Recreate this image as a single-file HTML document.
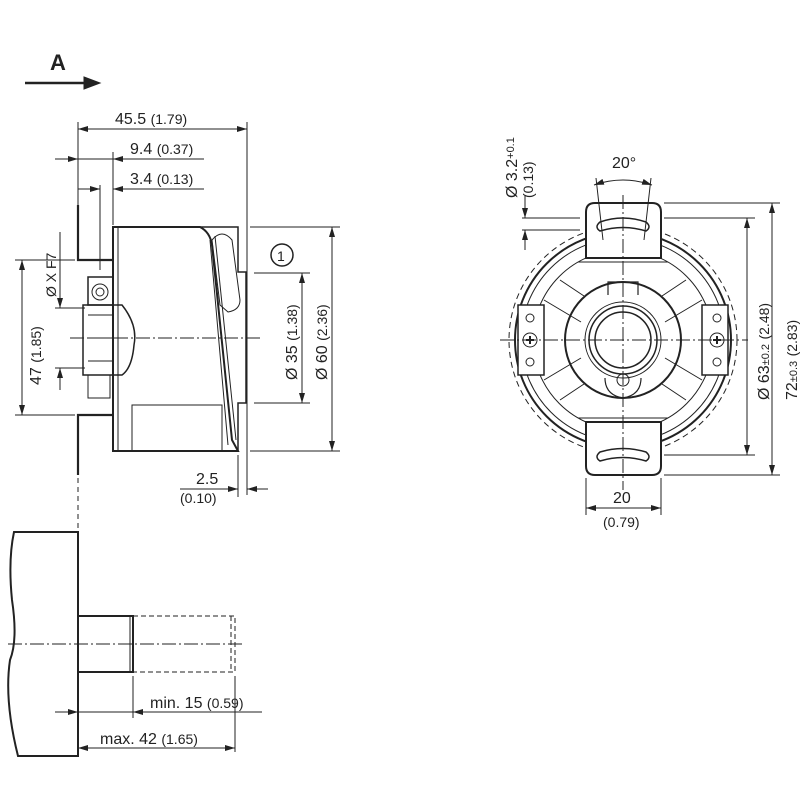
<!DOCTYPE html>
<html><head><meta charset="utf-8"><style>
html,body{margin:0;padding:0;background:#fff;width:800px;height:800px;overflow:hidden}
svg{display:block}
text{font-family:"Liberation Sans",sans-serif;fill:#222}
</style></head><body>
<svg width="800" height="800" viewBox="0 0 800 800" xmlns="http://www.w3.org/2000/svg">
<defs>
<marker id="a" viewBox="0 0 10 6" refX="10" refY="3" markerWidth="10" markerHeight="6" orient="auto-start-reverse" markerUnits="userSpaceOnUse"><path d="M0,0L10,3L0,6z" fill="#222"/></marker>
</defs>
<g stroke="#222" fill="none" stroke-width="1">
<line x1="25" y1="83" x2="88" y2="83" stroke-width="2.5"/>
<path d="M84,77L100,83L84,89z" fill="#222"/>
<line x1="78" y1="122" x2="78" y2="210"/>
<line x1="247" y1="122" x2="247" y2="495"/>
<line x1="78" y1="129" x2="247" y2="129" marker-start="url(#a)" marker-end="url(#a)"/>
<line x1="55" y1="159" x2="78" y2="159" marker-end="url(#a)"/>
<line x1="78" y1="159" x2="204" y2="159"/>
<line x1="113" y1="159" x2="127" y2="159" marker-start="url(#a)"/>
<line x1="113" y1="152" x2="113" y2="225"/>
<line x1="78" y1="189" x2="100" y2="189" marker-end="url(#a)"/>
<line x1="100" y1="185" x2="100" y2="270"/>
<line x1="113" y1="189" x2="204" y2="189" marker-start="url(#a)"/>
<path d="M78,205V260H113M113,415H78V475" stroke-width="2.2"/>
<line x1="78" y1="478" x2="78" y2="530" stroke-dasharray="5,4"/>
<path d="M113,227H200Q210,232 212,245L232,440L238,451H113Z" stroke-width="2"/>
<line x1="118" y1="227" x2="118" y2="451"/>
<path d="M200,227H238V272H246V403H238V451" stroke-width="1.5"/>
<path d="M210,240L228,445M215,236L236,440" />
<path d="M212,240Q222,228 232,240L240,300Q240,310 228,312L220,305Z"/>
<rect x="132" y="405" width="90" height="46"/>
<rect x="88" y="277" width="25" height="28" stroke-width="1.5"/>
<circle cx="100" cy="292" r="8"/><circle cx="100" cy="292" r="4"/>
<path d="M83,305H122Q138,325 134,345Q132,368 122,375H83Z" stroke-width="1.5"/>
<path d="M88,375V398H110V375"/>
<line x1="88" y1="315" x2="113" y2="315"/><line x1="88" y1="338" x2="113" y2="338"/><line x1="88" y1="361" x2="113" y2="361"/>
<line x1="70" y1="338" x2="262" y2="338" stroke-dasharray="14,3,2,3"/>
<line x1="15" y1="260" x2="75" y2="260"/><line x1="15" y1="415" x2="75" y2="415"/>
<line x1="22" y1="260" x2="22" y2="415" marker-start="url(#a)" marker-end="url(#a)"/>
<line x1="55" y1="308" x2="85" y2="308"/><line x1="55" y1="368" x2="85" y2="368"/>
<line x1="60" y1="232" x2="60" y2="308" marker-end="url(#a)"/>
<line x1="60" y1="368" x2="60" y2="390" marker-start="url(#a)"/>
<line x1="250" y1="227" x2="340" y2="227"/><line x1="250" y1="451" x2="340" y2="451"/>
<line x1="332" y1="227" x2="332" y2="451" marker-start="url(#a)" marker-end="url(#a)"/>
<line x1="254" y1="273" x2="310" y2="273"/><line x1="254" y1="403" x2="310" y2="403"/>
<line x1="302" y1="273" x2="302" y2="403" marker-start="url(#a)" marker-end="url(#a)"/>
<circle cx="282" cy="255" r="11" stroke-width="1.5"/>
<line x1="238" y1="455" x2="238" y2="497"/>
<line x1="180" y1="489" x2="238" y2="489" marker-end="url(#a)"/>
<line x1="247" y1="489" x2="268" y2="489" marker-start="url(#a)"/>
<path d="M78,532H14Q8,560 12,600Q18,640 10,660Q4,700 18,756H78Z" stroke-width="2"/>
<path d="M78,616H133V672H78" stroke-width="2"/>
<line x1="130" y1="616" x2="130" y2="672"/>
<path d="M133,616H235V672H133M231,616V672" stroke-dasharray="5,3"/>
<line x1="8" y1="644" x2="245" y2="644" stroke-dasharray="14,3,2,3"/>
<line x1="133" y1="676" x2="133" y2="718"/>
<line x1="235" y1="676" x2="235" y2="752"/>
<line x1="55" y1="712" x2="78" y2="712" marker-end="url(#a)"/>
<line x1="78" y1="712" x2="262" y2="712"/>
<line x1="133" y1="712" x2="147" y2="712" marker-start="url(#a)"/>
<line x1="78" y1="748" x2="235" y2="748" marker-start="url(#a)" marker-end="url(#a)"/>
<!-- right view -->
<circle cx="623" cy="340" r="114" stroke-dasharray="6,4"/>
<circle cx="623" cy="340" r="108" stroke-width="2"/>
<circle cx="623" cy="340" r="102"/>
<circle cx="623" cy="340" r="90"/>
<circle cx="623" cy="340" r="58" stroke-width="2"/>
<circle cx="623" cy="340" r="38"/>
<circle cx="623" cy="340" r="34" stroke-width="1.5"/>
<circle cx="623" cy="340" r="28" stroke-width="1.5"/>
<path d="M581,322L544,300M665,322L702,300M581,358L544,380M665,358L702,380M584,296L560,280M662,296L686,280M584,384L560,400M662,384L686,400"/>
<path d="M608,295V282H638V295M605,378Q605,395 623,398Q641,395 641,378" stroke-width="1.2"/>
<circle cx="623" cy="380" r="6"/>
<path d="M586,258V212Q586,203 595,203H652Q661,203 661,212V258Z" fill="#fff" stroke-width="2"/>
<path d="M586,422V466Q586,475 595,475H652Q661,475 661,466V422Z" fill="#fff" stroke-width="2"/>
<path d="M578,262H668M578,418H668"/>
<path d="M600,222Q623,214 646,222Q652,227 646,231Q623,224 600,231Q594,227 600,222Z" stroke-width="1.5"/>
<path d="M600,452Q623,445 646,452Q652,457 646,461Q623,454 600,461Q594,457 600,452Z" stroke-width="1.5"/>
<rect x="518" y="305" width="26" height="70" fill="#fff" stroke-width="1.5"/>
<rect x="702" y="305" width="26" height="70" fill="#fff" stroke-width="1.5"/>
<circle cx="530" cy="318" r="4"/><circle cx="530" cy="362" r="4"/><circle cx="530" cy="340" r="7"/>
<circle cx="717" cy="318" r="4"/><circle cx="717" cy="362" r="4"/><circle cx="717" cy="340" r="7"/>
<path d="M526,340h8M530,336v8M713,340h8M717,336v8" stroke-width="2"/>
<line x1="500" y1="340" x2="748" y2="340" stroke-dasharray="14,3,2,3"/>
<line x1="623" y1="195" x2="623" y2="490" stroke-dasharray="14,3,2,3"/>
<path d="M596,178L603,240M651,178L644,240"/>
<path d="M594,185Q623,175 652,185" marker-start="url(#a)" marker-end="url(#a)"/>
<line x1="522" y1="218" x2="580" y2="218"/><line x1="522" y1="230" x2="580" y2="230"/>
<line x1="525" y1="195" x2="525" y2="218" marker-end="url(#a)"/>
<line x1="525" y1="230" x2="525" y2="250" marker-start="url(#a)"/>
<line x1="664" y1="203" x2="780" y2="203"/><line x1="664" y1="475" x2="780" y2="475"/>
<line x1="772" y1="203" x2="772" y2="475" marker-start="url(#a)" marker-end="url(#a)"/>
<line x1="664" y1="218" x2="755" y2="218"/><line x1="664" y1="455" x2="755" y2="455"/>
<line x1="747" y1="218" x2="747" y2="455" marker-start="url(#a)" marker-end="url(#a)"/>
<line x1="586" y1="478" x2="586" y2="515"/><line x1="661" y1="478" x2="661" y2="515"/>
<line x1="586" y1="508" x2="661" y2="508" marker-start="url(#a)" marker-end="url(#a)"/>
</g>
<g font-size="16">
<text x="50" y="70" font-size="22" font-weight="bold">A</text>
<text x="115" y="124">45.5 <tspan font-size="14">(1.79)</tspan></text>
<text x="130" y="154">9.4 <tspan font-size="14">(0.37)</tspan></text>
<text x="130" y="184">3.4 <tspan font-size="14">(0.13)</tspan></text>
<text x="277" y="261" font-size="14">1</text>
<text x="196" y="484">2.5</text>
<text x="180" y="503" font-size="14">(0.10)</text>
<text x="150" y="708">min. 15 <tspan font-size="14">(0.59)</tspan></text>
<text x="100" y="744">max. 42 <tspan font-size="14">(1.65)</tspan></text>
<text x="612" y="168">20°</text>
<text x="613" y="503">20</text>
<text x="603" y="527" font-size="14">(0.79)</text>
<text transform="translate(41,385) rotate(-90)">47 <tspan font-size="14">(1.85)</tspan></text>
<text transform="translate(56,297) rotate(-90)" font-size="14">Ø X F7</text>
<text transform="translate(297,380) rotate(-90)">Ø 35 <tspan font-size="14">(1.38)</tspan></text>
<text transform="translate(327,380) rotate(-90)">Ø 60 <tspan font-size="14">(2.36)</tspan></text>
<text transform="translate(517,198) rotate(-90)">Ø 3.2<tspan font-size="11" dy="-3">+0.1</tspan></text>
<text transform="translate(533,198) rotate(-90)" font-size="14">(0.13)</text>
<text transform="translate(769,400) rotate(-90)">Ø 63<tspan font-size="11">±0.2</tspan> <tspan font-size="14">(2.48)</tspan></text>
<text transform="translate(797,400) rotate(-90)">72<tspan font-size="11">±0.3</tspan> <tspan font-size="14">(2.83)</tspan></text>
</g>
</svg>
</body></html>
